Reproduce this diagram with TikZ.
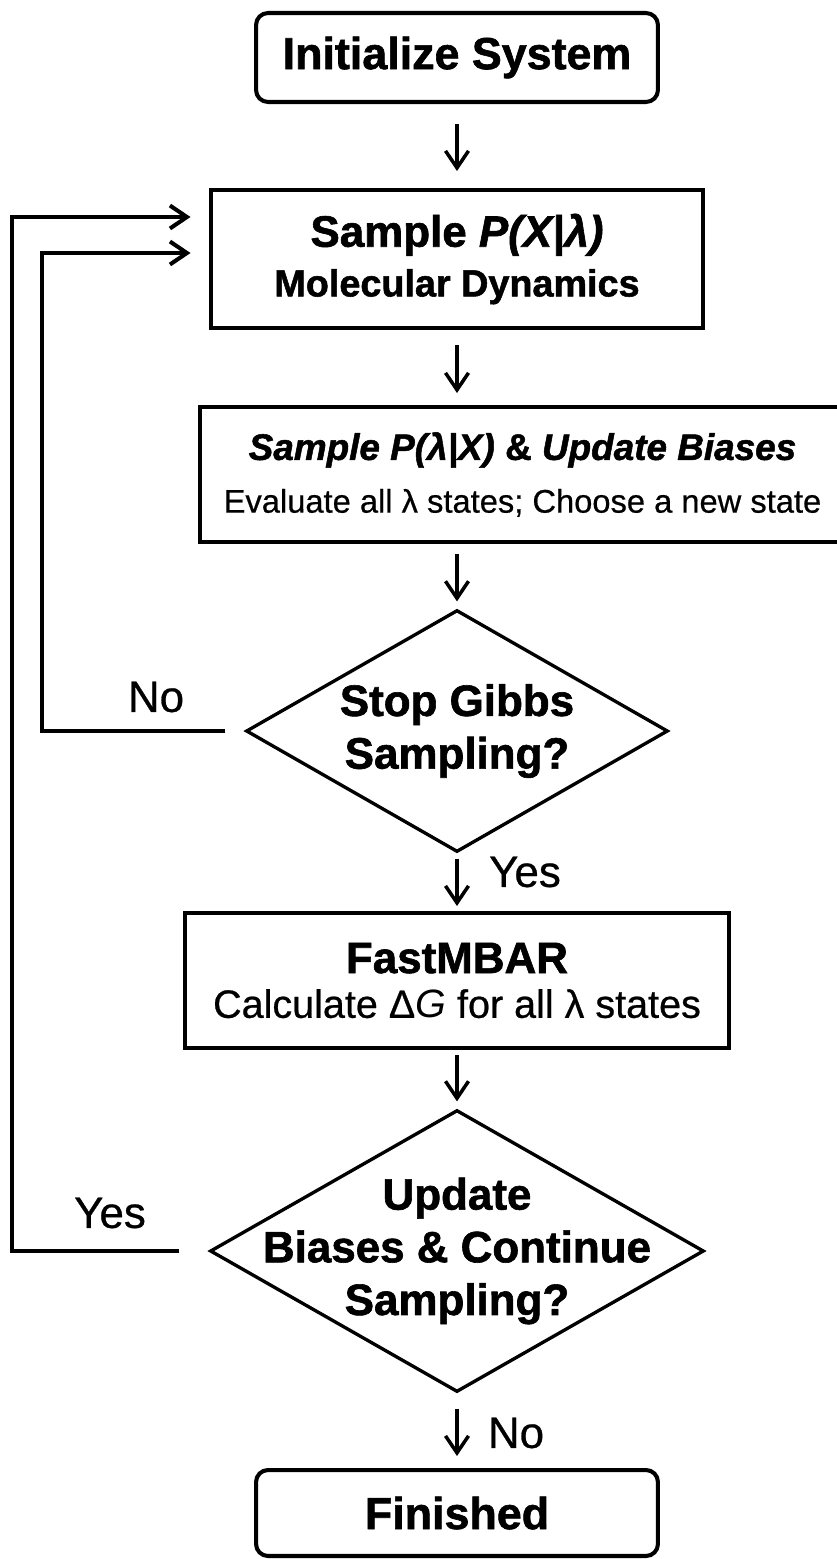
\documentclass[tikz,border=0pt]{standalone}
\usepackage{fontspec}
\setmainfont{Liberation Sans}[UprightFeatures={FakeBold=0.6}, BoldFeatures={FakeBold=1.4}, BoldItalicFeatures={FakeBold=1.4}]
\usetikzlibrary{shapes.geometric,arrows.meta,calc}

\begin{document}
\begin{tikzpicture}[x=0.02cm, y=-0.02cm]
    \tikzstyle{startstop} = [rectangle, rounded corners=0.24cm, draw, line width=2.3pt, inner sep=0pt, minimum width=8.04cm, font=\bfseries\fontsize{25.5}{30}\selectfont]
    \tikzstyle{process} = [rectangle, draw, line width=2.3pt, inner sep=0pt, align=center]
    \tikzstyle{decision} = [diamond, draw, line width=1.9pt, inner sep=0pt]
    \tikzstyle{flow} = [line width=2pt, -{Straight Barb[length=0.34cm,width=0.46cm]}]
    \tikzstyle{loopline} = [line width=2.3pt, -{Straight Barb[length=0.34cm,width=0.46cm]}]
    \tikzstyle{answer} = [font=\fontsize{25}{30}\selectfont]

    \useasboundingbox (0,0) rectangle (837,1559);

    % Boxes
    \node[startstop, minimum height=1.78cm] (init) at (457,57.5) {Initialize System};
    \node[process, minimum width=9.86cm, minimum height=2.76cm, font=\bfseries\fontsize{21.5}{28.3}\selectfont] (sample) at (457,259)
        {{\fontsize{25}{28.3}\selectfont Sample \textit{P(X|λ)}}\\Molecular Dynamics};
    \node[process, minimum width=12.9cm, minimum height=2.7cm, font=\fontsize{18.6}{30}\selectfont] (update) at (522.5,474.5)
        {{\fontsize{21}{30}\selectfont\bfseries\itshape Sample P(λ|X) {\upshape\&} Update Biases}\\Evaluate all λ states; Choose a new state};
    \node[decision, minimum width=8.44cm, minimum height=4.84cm,
        label={[name=stoptext, align=center, font=\bfseries\fontsize{25}{30}\selectfont]center:Stop Gibbs\\Sampling?}] (stop) at (457,731) {};
    \node[process, minimum width=10.88cm, minimum height=2.7cm, font=\fontsize{22.5}{25.5}\selectfont] (mbar) at (457,980.5)
        {{\fontsize{25}{25.5}\selectfont\bfseries FastMBAR}\\Calculate Δ\textit{G} for all λ states};
    \node[decision, minimum width=9.88cm, minimum height=5.64cm,
        label={[name=conttext, align=center, font=\bfseries\fontsize{25}{30}\selectfont]center:Update\\Biases \& Continue\\Sampling?}] (cont) at (457,1251) {};
    \node[startstop, minimum height=1.72cm] (done) at (457,1513) {Finished};

    % Main flow
    \draw[flow, shorten <=0.4cm, shorten >=0.34cm] (init.south) -- (sample.north);
    \draw[flow, shorten <=0.3cm, shorten >=0.24cm] (sample.south) -- (sample.south |- update.north);
    \draw[flow, shorten <=0.2cm, shorten >=0.14cm] (sample.south |- update.south) -- (stop.north);
    \draw[flow, shorten <=0.1cm, shorten >=0.1cm] (stop.south) -- (mbar.north);
    \draw[flow, shorten <=0.1cm, shorten >=0.14cm] (mbar.south) -- (cont.north);
    \draw[flow, shorten <=0.3cm, shorten >=0.24cm] (cont.south) -- (done.north);

    % Loops back to sampling
    \coordinate (inner) at (42,0);
    \coordinate (outer) at (12,0);
    \draw[loopline, shorten <=0.38cm, shorten >=0.36cm] (stop.west) -- (stop.west -| inner) |- ($(sample.west)+(0,-6)$);
    \draw[loopline, shorten <=0.58cm, shorten >=0.36cm] (cont.west) -- (cont.west -| outer) |- ($(sample.west)+(0,-42)$);

    % Answers
    \node[answer] (stopno) at (156,697) {No};
    \node[answer] (stopyes) at (525,872) {Yes};
    \node[answer] (contyes) at (110,1213) {Yes};
    \node[answer] (contno) at (516,1433) {No};
\end{tikzpicture}
\end{document}
